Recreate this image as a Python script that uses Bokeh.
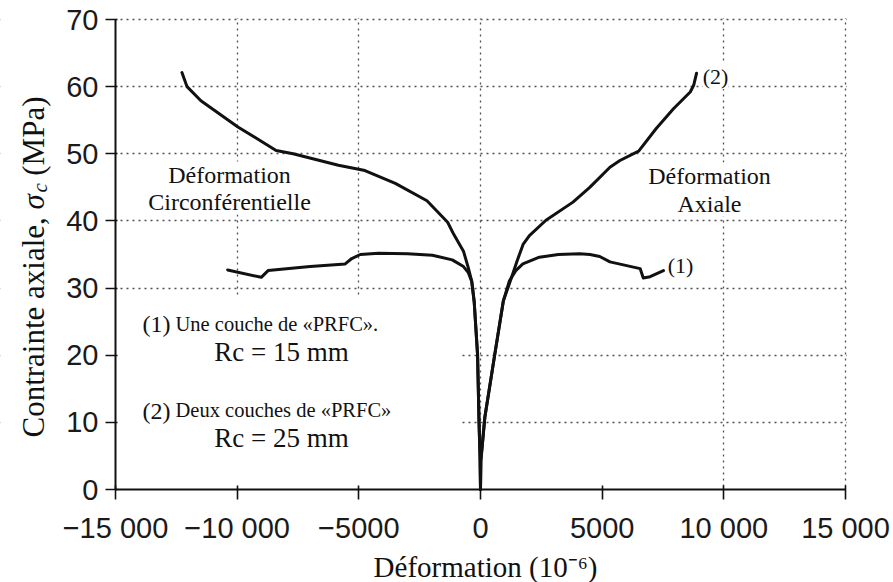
import math
from bokeh.plotting import figure
from bokeh.models import Label, FixedTicker, Range1d, BoxAnnotation
from bokeh.embed import file_html
from bokeh.resources import INLINE

# ---------------- data ----------------
x_ticks = [-15000, -10000, -5000, 0, 5000, 10000, 15000]
x_tick_labels = ["\u221215 000", "\u221210 000", "\u22125000", "0", "5000", "10 000", "15 000"]
y_ticks = [0, 10, 20, 30, 40, 50, 60, 70]
x_grid_ticks = [-10000, -5000, 0, 10000, 15000]
y_grid_ticks = [10, 20, 30, 40, 50, 60, 70]

# (2) Deux couches de PRFC - circumferential strain (negative side)
circ2_strain = [0, -20, -60, -120, -260, -360, -500, -700, -1100, -1350, -2200,
                -3500, -4750, -5840, -7700, -8400, -9970, -11490, -12060, -12270]
circ2_stress = [0, 5, 10, 20, 28, 31, 33, 35.5, 38, 39.8, 43,
                45.6, 47.5, 48.3, 50, 50.5, 54, 57.9, 60, 62.1]
# (2) axial strain (positive side)
axial2_strain = [0, 15, 180, 590, 940, 1250, 1500, 1750, 2010, 2690, 3800,
                 4490, 5320, 5730, 6500, 7230, 7930, 8620, 8760, 8880]
axial2_stress = [0, 4.3, 10.8, 20.2, 28.1, 31.3, 34, 36.5, 37.8, 40.1, 42.8,
                 45.0, 48.0, 49.0, 50.4, 53.8, 56.7, 59.2, 60.2, 62.0]
# (1) Une couche de PRFC - circumferential
circ1_strain = [0, -20, -60, -120, -260, -360, -500, -700, -1160, -1980, -3000,
                -4190, -4940, -5290, -5560, -7000, -8730, -9010, -10390]
circ1_stress = [0, 5, 10, 20, 28, 31, 32.3, 33.2, 34.2, 34.9, 35.1,
                35.2, 35.0, 34.4, 33.6, 33.2, 32.6, 31.6, 32.7]
# (1) axial
axial1_strain = [0, 15, 180, 590, 940, 1190, 1450, 1740, 2420, 3200, 4070,
                 4500, 4900, 5320, 6560, 6690, 6970, 7520]
axial1_stress = [0, 4.3, 10.8, 20.2, 28.1, 31.1, 32.6, 33.6, 34.6, 35.0, 35.1,
                 35.0, 34.7, 33.9, 32.9, 31.5, 31.7, 32.6]

# ---------------- layout ----------------
# The frame fills the whole canvas; the axes are pinned at x=-15000 and y=0,
# so that the rotated title and every tick label stay inside the frame.
W, H = 893, 582
X0, X1, Y0, Y1 = -15000, 15000, 0, 70
AX_L, AX_T, AX_W, AX_H = 115, 19, 730, 470    # axis box position on the page (px)
XPP = (X1 - X0) / AX_W                         # data units per pixel (x)
YPP = (Y1 - Y0) / AX_H                         # data units per pixel (y)


def fx(px):
    return X0 + (px - AX_L) * XPP


def fy(py):
    return Y0 + (AX_T + AX_H - py) * YPP


SERIF = "Liberation Serif"
SANS = "Liberation Sans"
INK = "#111111"

p = figure(frame_width=W, frame_height=H,
           x_range=Range1d(fx(0), fx(W)), y_range=Range1d(fy(H), fy(0)),
           output_backend="svg", toolbar_location=None,
           min_border_left=0, min_border_right=0,
           min_border_top=0, min_border_bottom=0)
p.outline_line_color = None
p.background_fill_color = "white"
p.border_fill_color = "white"

# axes
p.xaxis.ticker = FixedTicker(ticks=x_ticks)
p.xaxis.major_label_overrides = {t: s for t, s in zip(x_ticks, x_tick_labels)}
p.xaxis.bounds = (X0, X1)
p.xaxis.fixed_location = Y0
p.yaxis.ticker = FixedTicker(ticks=y_ticks)
p.yaxis.bounds = (Y0, Y1)
p.yaxis.fixed_location = X0
for ax in (p.xaxis, p.yaxis):
    ax.axis_line_width = 2
    ax.axis_line_color = INK
    ax.major_tick_line_width = 1.6
    ax.major_tick_line_color = INK
    ax.minor_tick_line_color = None
    ax.major_label_text_font = SANS
    ax.major_label_text_font_size = "29px"
    ax.major_label_text_color = "#1a1a1a"
p.xaxis.major_tick_in = 4
p.xaxis.major_tick_out = 10
p.yaxis.major_tick_in = 2
p.yaxis.major_tick_out = 10
p.xaxis.major_label_standoff = 12
p.yaxis.major_label_standoff = 7

# grid (dotted)
p.xgrid.ticker = FixedTicker(ticks=x_grid_ticks)
p.ygrid.ticker = FixedTicker(ticks=y_grid_ticks)
for g in (p.xgrid, p.ygrid):
    g.grid_line_color = "#333333"
    g.grid_line_alpha = 0.85
    g.grid_line_width = 1.3
    g.grid_line_dash = "2 4"


def white_box(**kw):
    p.add_layout(BoxAnnotation(fill_color="white", fill_alpha=1.0, line_color=None,
                               level="underlay", **kw))


# keep the grid inside the axis box
white_box(right=X0)
white_box(left=X1 + 1.5 * XPP)
white_box(bottom=Y1 + 1.5 * YPP)
white_box(top=Y0)
# white patch behind the legend text (covers the grid there)
white_box(left=X0, right=fx(459), bottom=fy(487), top=fy(295))

# curves
for xs, ys in ((circ1_strain, circ1_stress), (axial1_strain, axial1_stress),
               (circ2_strain, circ2_stress), (axial2_strain, axial2_stress)):
    p.line(xs, ys, line_color=INK, line_width=3, line_join="round", line_cap="round")


def lab(text, px, py, size, align="center", baseline="middle", bg=None,
        style="normal", angle=0.0, font=SERIF):
    lbl = Label(x=fx(px), y=fy(py), text=text, text_font=font,
                text_font_size=f"{size}px", text_font_style=style,
                text_align=align, text_baseline=baseline, text_color=INK,
                angle=angle)
    if bg:
        lbl.background_fill_color = bg
        lbl.background_fill_alpha = 1.0
    p.add_layout(lbl)


# curve annotations
lab("(2)", 715, 76, 22, bg="white")
lab("(1)", 680, 265, 22, bg="white")
lab("D\u00e9formation", 709, 175, 24, bg="white")
lab("Axiale", 709, 203, 24, bg="white")
lab("D\u00e9formation", 229, 174, 24, bg="white")
lab("Circonf\u00e9rentielle", 229, 201, 24, bg="white")

# legend text
lab("(1)", 156, 323, 24)
lab("Une couche de \u00abPRFC\u00bb.", 175, 323, 20.5, align="left")
lab("Rc = 15 mm", 281, 351, 27)
lab("(2)", 156, 410, 24)
lab("Deux couches de \u00abPRFC\u00bb", 175, 409, 20.5, align="left")
lab("Rc = 25 mm", 281, 437, 27)

# x-axis title
lab("D\u00e9formation (10\u207b\u2076)", 485, 566, 29)

# y-axis title (rotated, with subscript)
A = math.pi / 2
lab("Contrainte axiale,", 33, 437, 31, align="left", baseline="alphabetic", angle=A)
lab("\u03c3", 33, 209, 31, align="left", baseline="alphabetic", angle=A, style="italic")
lab("c", 39, 192, 21, align="left", baseline="alphabetic", angle=A, style="italic")
lab("(MPa)", 33, 96, 31, align="right", baseline="alphabetic", angle=A)

open("out.html", "w").write(file_html(p, INLINE))
